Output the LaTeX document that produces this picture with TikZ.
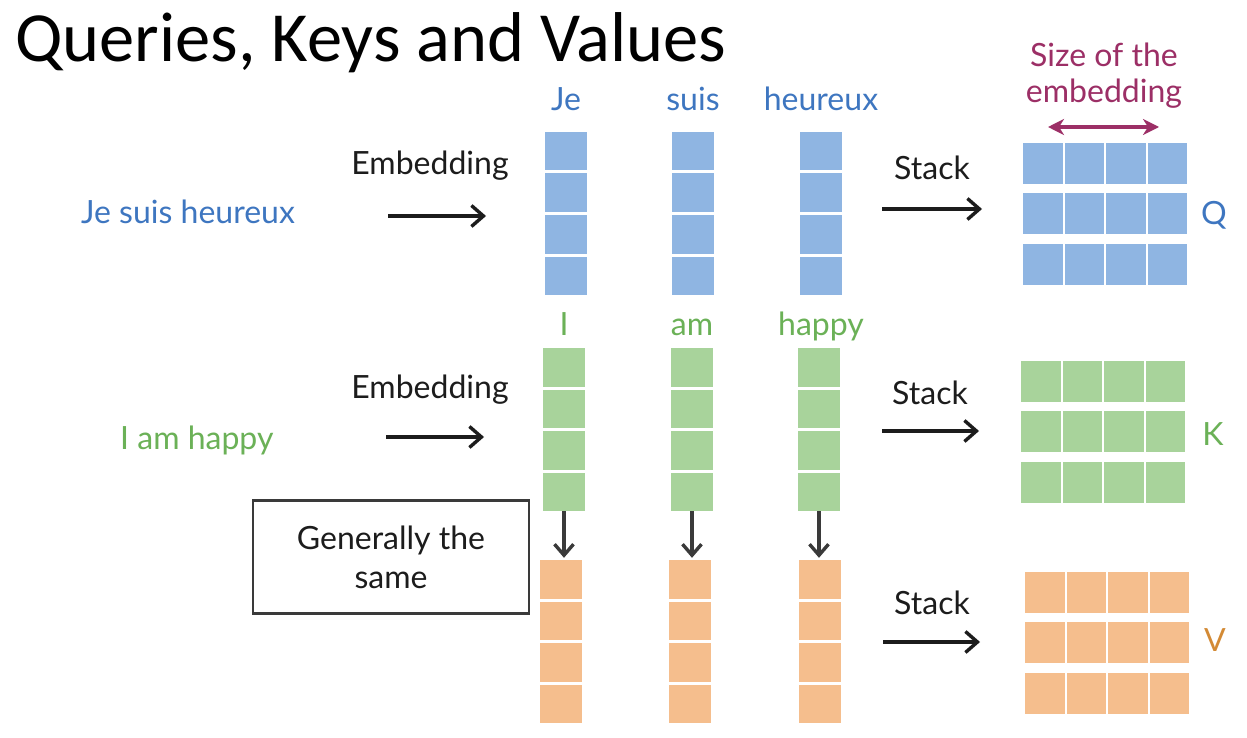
\documentclass[tikz,border=0pt]{standalone}
\usepackage{fontspec}
\setmainfont{Lato}
\newfontfamily\titlefont{Carlito}
\usetikzlibrary{arrows.meta}
\definecolor{qcell}{HTML}{8FB5E2}
\definecolor{kcell}{HTML}{A8D39B}
\definecolor{vcell}{HTML}{F5BE8D}
\definecolor{qtext}{HTML}{3E76C0}
\definecolor{ktext}{HTML}{6BB157}
\definecolor{vtext}{HTML}{D38A35}
\definecolor{embcol}{HTML}{9C2F66}
\definecolor{ink}{HTML}{1C1C1C}
\definecolor{darrow}{HTML}{3A3A3A}
\begin{document}
\begin{tikzpicture}[x=1pt,y=-1pt,
  lbl/.style={font=\fontsize{32}{39}\selectfont, inner sep=0pt, anchor=base},
  cell/.style={rectangle, inner sep=0pt, minimum width=42pt, minimum height=38.5pt},
  mcell/.style={rectangle, inner sep=0pt, minimum width=39.5pt, minimum height=41pt},
  flow/.style={draw=ink, line width=3.4pt,
    -{Straight Barb[length=12pt,width=21pt,line width=3.4pt]}},
  copyarrow/.style={draw=darrow, line width=3.4pt,
    -{Straight Barb[length=11pt,width=19pt,line width=3.4pt]}, shorten >=2pt},
  sizearrow/.style={draw=embcol, line width=3.2pt,
    {Stealth[length=16pt,width=16pt,inset=5pt]}-{Stealth[length=16pt,width=16pt,inset=5pt]}}]
\useasboundingbox (0,0) rectangle (1247,738);
\fill[white] (0,0) rectangle (1247,738);

% title
\node[anchor=base west, inner sep=0pt, text=black, font=\titlefont\fontsize{70.5}{78}\selectfont] (title) at (15,62) {Queries, Keys and Values};

% word columns
\foreach \c/\x in {1/566,2/693,3/821}
  \foreach \r in {0,...,3}
    \node[cell, fill=qcell] (q\c-\r) at (\x,{151.25+41.5*\r}) {};
\foreach \c/\x in {1/564,2/692,3/819}
  \foreach \r in {0,...,3}
    \node[cell, fill=kcell] (k\c-\r) at (\x,{367.25+41.5*\r}) {};
\foreach \c/\x in {1/561,2/690,3/820}
  \foreach \r in {0,...,3}
    \node[cell, fill=vcell] (v\c-\r) at (\x,{579.25+41.5*\r}) {};

% stacked matrices
\foreach \i in {0,...,3}
  \foreach \j in {0,1,2} {
    \node[mcell, fill=qcell] (Q\i\j) at ({1042.75+41.5*\i},{163.5+50.3*\j}) {};
    \node[mcell, fill=kcell] (K\i\j) at ({1040.75+41.5*\i},{381.5+50.3*\j}) {};
    \node[mcell, fill=vcell] (V\i\j) at ({1044.75+41.5*\i},{592.5+50.3*\j}) {};
  }

% words over the columns
\node[lbl, text=qtext] (wje) at (566,111) {Je};
\node[lbl, text=qtext] (wsuis) at (693,111) {suis};
\node[lbl, text=qtext] (wheureux) at (821,111) {heureux};
\node[lbl, text=ktext] (wi) at (564,335) {I};
\node[lbl, text=ktext] (wam) at (692,335) {am};
\node[lbl, text=ktext] (whappy) at (821,335) {happy};

% sentences
\node[lbl, anchor=base west, text=qtext] (sfr) at (81,223) {Je suis heureux};
\node[lbl, anchor=base west, text=ktext] (sen) at (120,449) {I am happy};

% embedding step
\node[lbl, text=ink] (emb1) at (430,175) {Embedding};
\node[lbl, text=ink] (emb2) at (430,398) {Embedding};
\coordinate (e1a) at (388,216); \coordinate (e1b) at (486,216);
\coordinate (e2a) at (386,437); \coordinate (e2b) at (484,437);
\draw[flow] (e1a) -- (e1b);
\draw[flow] (e2a) -- (e2b);

% stack step
\node[lbl, text=ink] (st1) at (932,180) {Stack};
\node[lbl, text=ink] (st2) at (930,404) {Stack};
\node[lbl, text=ink] (st3) at (932,614) {Stack};
\coordinate (s1a) at (882,209); \coordinate (s1b) at (982,209);
\coordinate (s2a) at (882,431); \coordinate (s2b) at (979,431);
\coordinate (s3a) at (883,642); \coordinate (s3b) at (980,642);
\draw[flow] (s1a) -- (s1b);
\draw[flow] (s2a) -- (s2b);
\draw[flow] (s3a) -- (s3b);

% matrix names
\node[lbl, text=qtext, font=\fontsize{32}{36}\selectfont] (lq) at (1214,224) {Q};
\node[lbl, text=ktext, font=\fontsize{32}{36}\selectfont] (lk) at (1213,445) {K};
\node[lbl, text=vtext, font=\fontsize{32}{36}\selectfont] (lv) at (1215,651) {V};

% embedding size
\node[lbl, text=embcol] (sz1) at (1104,67) {Size of the};
\node[lbl, text=embcol] (sz2) at (1104,103) {embedding};
\coordinate (za) at (1048,127); \coordinate (zb) at (1159,127);
\draw[sizearrow] (za) -- (zb);

% keys copied to values
\foreach \c in {1,2,3}
  \draw[copyarrow] (k\c-3.south) -- (k\c-3.south |- v\c-0.north);

% note
\node[draw=darrow, line width=2.8pt, minimum width=276pt, minimum height=113pt,
      inner sep=0pt, align=center, text=ink, font=\fontsize{32}{39}\selectfont] (note) at (391,557) {Generally the\\same};
\end{tikzpicture}
\end{document}
